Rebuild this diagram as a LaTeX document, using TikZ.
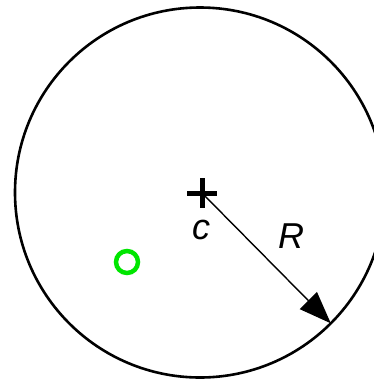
\documentclass[tikz,border=0pt]{standalone}
\usepackage{fontspec}
\setmainfont{Liberation Sans}
\usetikzlibrary{arrows.meta}
\begin{document}
\begin{tikzpicture}[x=1pt,y=-1pt,
  ring/.style={circle,draw=black,line width=2.6pt,inner sep=0pt,outer sep=0pt},
  lbl/.style={font=\fontsize{36}{42}\selectfont\itshape,inner sep=0pt},
  spot/.style={circle,draw={rgb,255:red,0;green,230;blue,0},line width=4.5pt,minimum size=22pt,inner sep=0pt}]
\useasboundingbox (0,0) rectangle (374,381);
\node[ring,minimum size=370pt] (big) at (200,192.5) {};
\coordinate (c) at (202,193);
\draw[line width=5pt] (187,193) -- (217,193);
\draw[line width=5pt] (202,178) -- (202,208);
\node[lbl] (clbl) at (201,230) {c};
\node[lbl] (Rlbl) at (291,236) {R};
\node[spot] (g) at (127,262) {};
\draw[line width=1.4pt,-{Triangle[length=32pt,width=24pt]}] (c) -- (big.-45);
\end{tikzpicture}
\end{document}
